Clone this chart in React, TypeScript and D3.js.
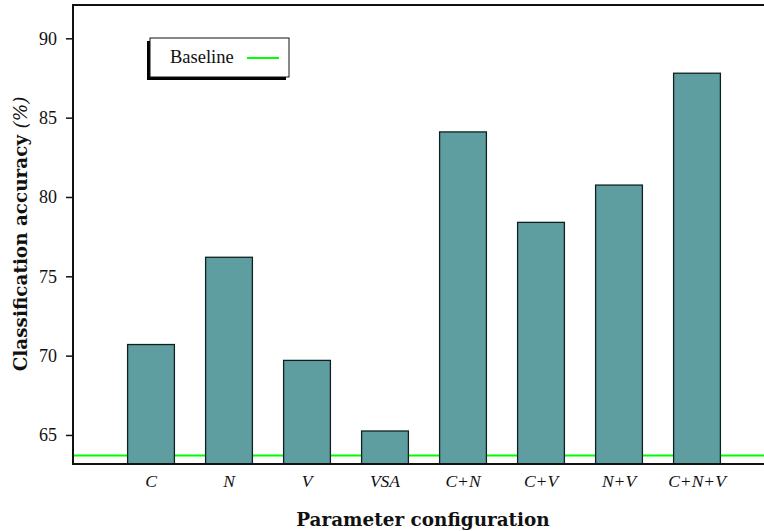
import React, { useEffect, useRef } from 'react';
import * as d3 from 'd3';

const categories = ['C', 'N', 'V', 'VSA', 'C+N', 'C+V', 'N+V', 'C+N+V'];
const accuracy = [70.7, 76.2, 69.7, 65.25, 84.1, 78.4, 80.75, 87.8];
const baseline = 63.7;
const yTicks = [65, 70, 75, 80, 85, 90];

const W = 764;
const H = 531;

const App: React.FC = () => {
  const svgRef = useRef<SVGSVGElement>(null);

  useEffect(() => {
    if (!svgRef.current) return;
    const svg = d3.select(svgRef.current);
    svg.selectAll('*').remove();

    const left = 73;
    const top = 5;
    const bottom = 464;
    const titleFont = '"DejaVu Serif", "Liberation Serif", serif';
    const font = '"Liberation Serif", serif';

    // x runs past the right edge, the original frame is cropped
    const x = d3.scaleLinear().domain([0, categories.length + 1]).range([left, 775]);
    const y = d3.scaleLinear().domain([63.17, 92.1]).range([bottom, top]);
    const barW = (x(1) - x(0)) * 0.6;

    // baseline behind the bars
    svg.append('line')
      .attr('x1', left).attr('x2', W)
      .attr('y1', y(baseline)).attr('y2', y(baseline))
      .attr('stroke', '#00ff00').attr('stroke-width', 2);

    svg.append('g')
      .selectAll('rect')
      .data(accuracy)
      .join('rect')
      .attr('x', (_, i) => x(i + 1) - barW / 2)
      .attr('y', d => y(d))
      .attr('width', barW)
      .attr('height', d => bottom - y(d))
      .attr('fill', '#5f9ea0')
      .attr('stroke', '#102020')
      .attr('stroke-width', 1.3);

    // frame: left, bottom, top
    const frame = svg.append('g').attr('stroke', '#111').attr('stroke-width', 2).attr('fill', 'none');
    frame.append('path').attr('d', `M${W},${top}H${left}V${bottom}H${W}`);

    const yAxis = svg.append('g')
      .attr('transform', `translate(${left},0)`)
      .call(d3.axisLeft(y).tickValues(yTicks).tickSize(7).tickPadding(9).tickFormat(d3.format('d')));
    yAxis.select('.domain').remove();
    yAxis.selectAll('line').attr('stroke', '#111').attr('stroke-width', 1.5);
    yAxis.selectAll('text').attr('font-family', font).attr('font-size', 18).attr('fill', '#111');

    svg.append('g')
      .selectAll('text')
      .data(categories)
      .join('text')
      .attr('x', (_, i) => x(i + 1))
      .attr('y', 487)
      .attr('text-anchor', 'middle')
      .attr('font-family', font)
      .attr('font-style', 'italic')
      .attr('font-size', 17.5)
      .attr('fill', '#111')
      .text(d => d);

    svg.append('text')
      .attr('x', 423).attr('y', 526)
      .attr('text-anchor', 'middle')
      .attr('font-family', titleFont).attr('font-weight', 'bold').attr('font-size', 18.4)
      .attr('fill', '#111')
      .text('Parameter configuration');

    const yt = svg.append('text')
      .attr('transform', 'translate(27,234) rotate(-90)')
      .attr('text-anchor', 'middle')
      .attr('font-family', titleFont).attr('font-size', 18.4).attr('fill', '#111');
    yt.append('tspan').attr('font-weight', 'bold').text('Classification accuracy ');
    yt.append('tspan').attr('font-style', 'italic').text('(%)');

    // legend with offset shadow
    const lg = svg.append('g');
    lg.append('rect').attr('x', 147).attr('y', 41).attr('width', 139).attr('height', 39).attr('fill', '#000');
    lg.append('rect').attr('x', 150).attr('y', 38).attr('width', 139).attr('height', 39)
      .attr('fill', '#fff').attr('stroke', '#111').attr('stroke-width', 1);
    lg.append('text').attr('x', 170).attr('y', 63)
      .attr('font-family', font).attr('font-size', 18.5).attr('fill', '#111').text('Baseline');
    lg.append('line').attr('x1', 247).attr('x2', 279).attr('y1', 58).attr('y2', 58)
      .attr('stroke', '#00ff00').attr('stroke-width', 2);
  }, []);

  return (
    <svg ref={svgRef} width={W} height={H}
      style={{ position: 'absolute', left: 0, top: 0, background: '#fff' }} />
  );
};

export default App;
